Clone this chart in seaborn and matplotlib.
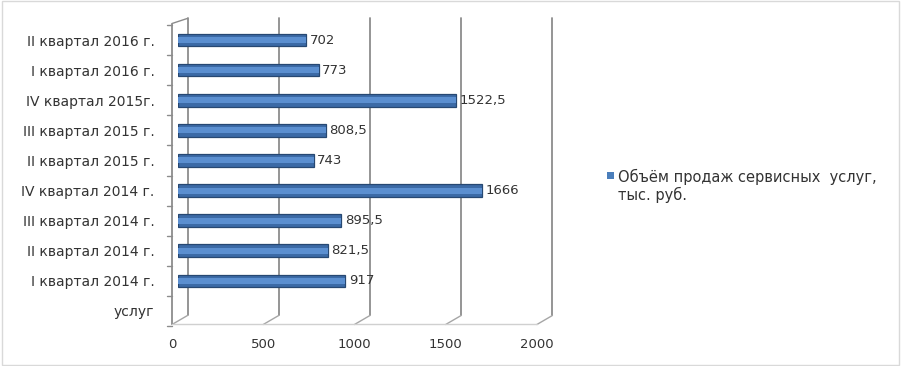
import matplotlib
matplotlib.use("Agg")
import matplotlib.pyplot as plt
import numpy as np
import pandas as pd
import seaborn as sns

# categories from top to bottom, as in the chart
quarters = ["II квартал 2016 г.", "I квартал 2016 г.", "IV квартал 2015г.",
            "III квартал 2015 г.", "II квартал 2015 г.", "IV квартал 2014 г.",
            "III квартал 2014 г.", "II квартал 2014 г.", "I квартал 2014 г.", "услуг"]
sales = [702, 773, 1522.5, 808.5, 743, 1666, 895.5, 821.5, 917, np.nan]
series_name = "Объём продаж сервисных  услуг,\nтыс. руб."
x_ticks = [0, 500, 1000, 1500, 2000]

df = pd.DataFrame({"Квартал": quarters, "Объём": sales})

sns.set_style("white")
plt.rcParams['font.family'] = ['DejaVu Sans']

fig = plt.figure(figsize=(9.01, 3.66), dpi=100)
ax = fig.add_axes([0.1976, 0.1175, 0.405, 0.8306])

grid_c = "#8c8c8c"
back = 52     # back wall offset (data units)
front = -33   # front plane offset (data units)
for t in x_ticks:
    ax.plot([t + back, t + back], [-0.72, 9.15], color=grid_c, lw=1.3, zorder=0, clip_on=False)
    ax.plot([t + front, t + back], [9.45, 9.15], color="#a6a6a6", lw=1.0, zorder=0, clip_on=False)
ax.plot([front, front], [-0.55, 9.45], color=grid_c, lw=1.3, zorder=0, clip_on=False)
ax.plot([front, x_ticks[-1] + front], [9.45, 9.45], color="#d0d0d0", lw=1.0, zorder=0, clip_on=False)
ax.plot([front, back], [-0.55, -0.72], color=grid_c, lw=1.0, zorder=0, clip_on=False)
for b in np.arange(-0.5, 9.6, 1.0):
    ax.plot([front - 28, front], [b, b], color="#8c8c8c", lw=1.0, zorder=0, clip_on=False)

# tube-like bars: dark body with a lighter core
sns.barplot(data=df, x="Объём", y="Квартал", orient="h", color="#3b6aa6",
            width=0.42, saturation=1, edgecolor="#274872", linewidth=0.9,
            ax=ax, zorder=3)
sns.barplot(data=df, x="Объём", y="Квартал", orient="h", color="#5b8fd0",
            width=0.2, saturation=1, linewidth=0, ax=ax, zorder=4)

for i, v in enumerate(sales):
    if np.isnan(v):
        continue
    txt = f"{v:g}".replace(".", ",")
    ax.text(v + 18, i, txt, va="center", ha="left", fontsize=9.5, color="#333333")

# value axis labels sit on the front plane of the 3D box
for t in x_ticks:
    ax.annotate(str(t), (t + front, 9.45), xytext=(0, -10), textcoords="offset points",
                ha="center", va="top", fontsize=9.5, color="#333333", annotation_clip=False)

ax.set_xlim(0, 2000)
ax.set_ylim(9.4, -0.7)
ax.set_xticks([])
ax.tick_params(axis="y", labelsize=10, labelcolor="#333333", length=0, pad=17)
ax.set_xlabel("")
ax.set_ylabel("")
for s in ax.spines.values():
    s.set_visible(False)

# legend
fig.patches.append(plt.Rectangle((0.674, 0.511), 0.0075, 0.018, transform=fig.transFigure,
                                 facecolor="#4a7ebb", edgecolor="none"))
fig.text(0.686, 0.538, series_name, fontsize=10.5, color="#333333", va="top", ha="left",
         linespacing=1.1)

# outer frame
fig.patches.append(plt.Rectangle((0.002, 0.004), 0.996, 0.992, transform=fig.transFigure,
                                 facecolor="none", edgecolor="#d9d9d9", lw=1))

fig.savefig("out.png", dpi=100)
